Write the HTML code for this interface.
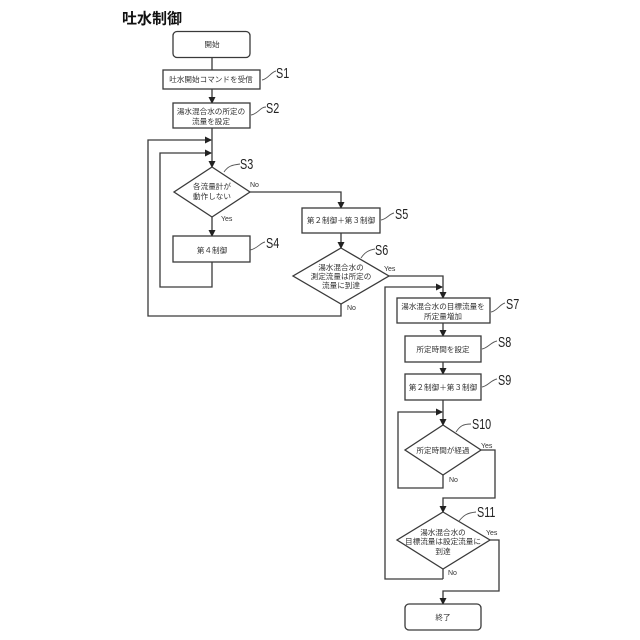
<!DOCTYPE html>
<html><head><meta charset="utf-8"><style>
html,body{margin:0;padding:0;background:#fff}
svg{display:block}
.t{font-family:"Liberation Sans","Noto Sans CJK JP",sans-serif;font-size:7.6px;fill:#333;text-anchor:middle}
.y{font-family:"Liberation Sans",sans-serif;font-size:7px;fill:#333}
.s{font-family:"Liberation Sans",sans-serif;font-size:15px;fill:#222}
.l{fill:none;stroke:#3a3a3a;stroke-width:1.3}
.b{fill:#fff;stroke:#3a3a3a;stroke-width:1.3}
.c{fill:none;stroke:#555;stroke-width:.9}
</style></head><body>
<svg width="640" height="640" viewBox="0 0 640 640" xmlns="http://www.w3.org/2000/svg">
<defs><marker id="a" markerWidth="7" markerHeight="7" refX="6" refY="3.500" orient="auto" markerUnits="userSpaceOnUse"><path d="M0,0L7,3.500L0,7Z" fill="#222"/></marker></defs>
<text x="122" y="23.500" style="font-family:'Noto Sans CJK JP',sans-serif;font-size:15px;font-weight:700;fill:#111">吐水制御</text>

<path class="l" d="M212,57V70"/>
<path class="l" d="M212,89V103" marker-end="url(#a)"/>
<path class="l" d="M212,128V167" marker-end="url(#a)"/>
<path class="l" d="M341,304V316H148V140H211" marker-end="url(#a)"/>
<path class="l" d="M212,262V287H160V153H211" marker-end="url(#a)"/>
<path class="l" d="M212,217V236" marker-end="url(#a)"/>
<path class="l" d="M250,192H341V208" marker-end="url(#a)"/>
<path class="l" d="M341,233V248" marker-end="url(#a)"/>
<path class="l" d="M389,276H443V298" marker-end="url(#a)"/>
<path class="l" d="M443,579H385V287H442" marker-end="url(#a)"/>
<path class="l" d="M443,569V579"/>
<path class="l" d="M443,323V336" marker-end="url(#a)"/>
<path class="l" d="M443,362V374" marker-end="url(#a)"/>
<path class="l" d="M443,400V425" marker-end="url(#a)"/>
<path class="l" d="M443,475V488H398V412H442" marker-end="url(#a)"/>
<path class="l" d="M481,450H495V498H443V512" marker-end="url(#a)"/>
<path class="l" d="M490,540H499V591H443V604" marker-end="url(#a)"/>

<rect class="b" x="173" y="31.500" width="77" height="26" rx="4"/>
<rect class="b" x="163" y="70" width="97" height="19"/>
<rect class="b" x="173" y="103" width="77" height="25"/>
<polygon class="b" points="212,167 250,192 212,217 174,192"/>
<rect class="b" x="173" y="236" width="77" height="26"/>
<rect class="b" x="302" y="208" width="78" height="25"/>
<polygon class="b" points="341,248 389,276 341,304 293,276"/>
<rect class="b" x="397" y="298" width="93" height="25"/>
<rect class="b" x="405" y="336" width="76" height="26"/>
<rect class="b" x="405" y="374" width="76" height="26"/>
<polygon class="b" points="443,425 481,450 443,475 405,450"/>
<polygon class="b" points="443,512 490,540 443,569 397,540"/>
<rect class="b" x="405" y="604" width="76" height="26" rx="4"/>

<text class="t" x="212" y="47">開始</text>
<text class="t" x="211" y="82">吐水開始コマンドを受信</text>
<text class="t" x="211" y="114">湯水混合水の所定の</text>
<text class="t" x="211" y="124">流量を設定</text>
<text class="t" x="212" y="189">各流量計が</text>
<text class="t" x="212" y="199">動作しない</text>
<text class="t" x="212" y="253">第４制御</text>
<text class="t" x="341" y="223">第２制御＋第３制御</text>
<text class="t" x="341" y="270">湯水混合水の</text>
<text class="t" x="341" y="279">測定流量は所定の</text>
<text class="t" x="341" y="288">流量に到達</text>
<text class="t" x="443" y="309">湯水混合水の目標流量を</text>
<text class="t" x="443" y="319">所定量増加</text>
<text class="t" x="443" y="352">所定時間を設定</text>
<text class="t" x="443" y="390">第２制御＋第３制御</text>
<text class="t" x="443" y="453">所定時間が経過</text>
<text class="t" x="443" y="535">湯水混合水の</text>
<text class="t" x="443" y="544">目標流量は設定流量に</text>
<text class="t" x="443" y="554">到達</text>
<text class="t" x="443" y="620">終了</text>

<text class="y" x="250" y="187">No</text>
<text class="y" x="221" y="221">Yes</text>
<text class="y" x="384" y="271">Yes</text>
<text class="y" x="347" y="310">No</text>
<text class="y" x="481" y="448">Yes</text>
<text class="y" x="449" y="482">No</text>
<text class="y" x="486" y="535">Yes</text>
<text class="y" x="448" y="575">No</text>

<path class="c" d="M262,80C268,79 271,72 276,71"/>
<path class="c" d="M251,115C258,114 260,107 266,107"/>
<path class="c" d="M224,172C228,166 232,165 240,164"/>
<path class="c" d="M250,250C257,249 260,243 265,242"/>
<path class="c" d="M381,220C387,219 389,214 394,213"/>
<path class="c" d="M361,258C365,252 369,250 375,249"/>
<path class="c" d="M491,312C497,311 500,304 505,303"/>
<path class="c" d="M482,349C488,348 491,342 497,341"/>
<path class="c" d="M482,387C488,386 491,380 497,379"/>
<path class="c" d="M456,432C460,426 463,424 471,424"/>
<path class="c" d="M459,521C464,515 467,513 476,512"/>

<g class="s">
<text transform="translate(276,78) scale(.72,1)">S1</text>
<text transform="translate(266,113) scale(.72,1)">S2</text>
<text transform="translate(240,169) scale(.72,1)">S3</text>
<text transform="translate(266,248) scale(.72,1)">S4</text>
<text transform="translate(395,219) scale(.72,1)">S5</text>
<text transform="translate(375,255) scale(.72,1)">S6</text>
<text transform="translate(506,309) scale(.72,1)">S7</text>
<text transform="translate(498,347) scale(.72,1)">S8</text>
<text transform="translate(498,385) scale(.72,1)">S9</text>
<text transform="translate(472,429) scale(.72,1)">S10</text>
<text transform="translate(477,517) scale(.72,1)">S11</text>
</g>
</svg>
</body></html>
